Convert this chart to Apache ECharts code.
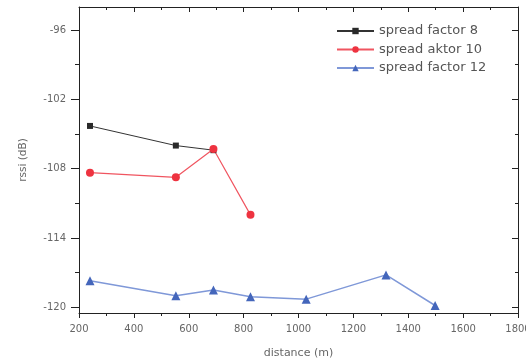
<!DOCTYPE html>
<html>
<head>
<meta charset="utf-8">
<script src="https://cdn.jsdelivr.net/npm/echarts@6/dist/echarts.min.js"></script>
<style>
  html, body { margin: 0; padding: 0; background: #fff; }
  #chart { width: 526px; height: 362px; }
</style>
</head>
<body>
<div id="chart"></div>
<script>
// Measured RSSI against distance for three LoRa spreading factors
const seriesNames = ['spread factor 8', 'spread aktor 10', 'spread factor 12'];

const distSF8 = [240, 553, 690];
const rssiSF8 = [-104.3, -106.0, -106.4];

const distSF10 = [240, 553, 690, 825];
const rssiSF10 = [-108.35, -108.75, -106.3, -112.0];

const distSF12 = [240, 553, 690, 825, 1028, 1319, 1498];
const rssiSF12 = [-117.7, -119.0, -118.5, -119.1, -119.3, -117.2, -119.85];

const yMajorTicks = [-120, -114, -108, -102, -96];
const yMinorTicks = [-117, -111, -105, -99];

const pairs = (xs, ys) => xs.map((x, i) => [x, ys[i]]);

const FONT = 'DejaVu Sans';
const AXIS_COLOR = '#222';
const LABEL_COLOR = '#666';

const chart = echarts.init(document.getElementById('chart'), null, { renderer: 'canvas' });

const yBase = {
  type: 'value', min: -120.5, max: -94,
  splitLine: { show: false },
  axisLine: { show: true, lineStyle: { color: AXIS_COLOR, width: 1 } }
};

chart.setOption({
  animation: false,
  backgroundColor: '#fff',
  grid: { left: 79, right: 8, top: 7, bottom: 49, containLabel: false, outerBoundsMode: 'none' },
  legend: {
    orient: 'vertical',
    left: 336, top: 24,
    padding: 0,
    itemWidth: 37, itemHeight: 8, itemGap: 4.5,
    textStyle: { fontFamily: FONT, fontSize: 13, lineHeight: 14, color: '#555' },
    data: seriesNames
  },
  xAxis: [
    {
      type: 'value', position: 'bottom', min: 200, max: 1800, interval: 200,
      splitLine: { show: false },
      axisLine: { lineStyle: { color: AXIS_COLOR, width: 1 } },
      axisTick: { length: 5, lineStyle: { color: AXIS_COLOR } },
      minorTick: { show: true, splitNumber: 2, length: 3, lineStyle: { color: AXIS_COLOR } },
      axisLabel: { fontFamily: FONT, fontSize: 10, color: LABEL_COLOR, margin: 11, formatter: v => String(v) },
      name: 'distance (m)', nameLocation: 'middle', nameGap: 35,
      nameTextStyle: { fontFamily: FONT, fontSize: 11, color: '#666' }
    },
    {
      type: 'value', position: 'top', min: 200, max: 1800, interval: 200,
      splitLine: { show: false },
      axisLine: { lineStyle: { color: AXIS_COLOR, width: 1 } },
      axisTick: { inside: true, length: 5, lineStyle: { color: AXIS_COLOR } },
      minorTick: { show: true, splitNumber: 2, length: 3, lineStyle: { color: AXIS_COLOR } },
      axisLabel: { show: false }
    }
  ],
  yAxis: [
    Object.assign({}, yBase, {
      position: 'left',
      axisTick: { length: 8, customValues: yMajorTicks, lineStyle: { color: AXIS_COLOR } },
      axisLabel: { customValues: yMajorTicks, fontFamily: FONT, fontSize: 10, color: LABEL_COLOR, margin: 13 },
      name: 'rssi (dB)', nameLocation: 'middle', nameGap: 50, nameRotate: 90,
      nameTextStyle: { fontFamily: FONT, fontSize: 10.5, color: '#666' }
    }),
    Object.assign({}, yBase, {
      position: 'left',
      axisLine: { show: false },
      axisTick: { length: 4, customValues: yMinorTicks, lineStyle: { color: AXIS_COLOR } },
      axisLabel: { show: false }
    }),
    Object.assign({}, yBase, {
      position: 'right',
      axisTick: { inside: true, length: 6, customValues: yMajorTicks, lineStyle: { color: AXIS_COLOR } },
      axisLabel: { show: false }
    }),
    Object.assign({}, yBase, {
      position: 'right',
      axisLine: { show: false },
      axisTick: { inside: true, length: 3, customValues: yMinorTicks, lineStyle: { color: AXIS_COLOR } },
      axisLabel: { show: false }
    })
  ],
  series: [
    {
      name: seriesNames[0], type: 'line', data: pairs(distSF8, rssiSF8),
      color: '#2a2a2a', symbol: 'rect', symbolSize: 6,
      lineStyle: { width: 1, color: '#333' }, itemStyle: { color: '#2a2a2a' }
    },
    {
      name: seriesNames[1], type: 'line', data: pairs(distSF10, rssiSF10),
      color: '#ee3340', symbol: 'circle', symbolSize: 8,
      lineStyle: { width: 1.2, color: '#f05560' }, itemStyle: { color: '#ee3340' }
    },
    {
      name: seriesNames[2], type: 'line', data: pairs(distSF12, rssiSF12),
      color: '#4466bb', symbol: 'triangle', symbolSize: 9,
      lineStyle: { width: 1.5, color: '#7f98d8' }, itemStyle: { color: '#4466bb' }
    }
  ]
});
</script>
</body>
</html>
